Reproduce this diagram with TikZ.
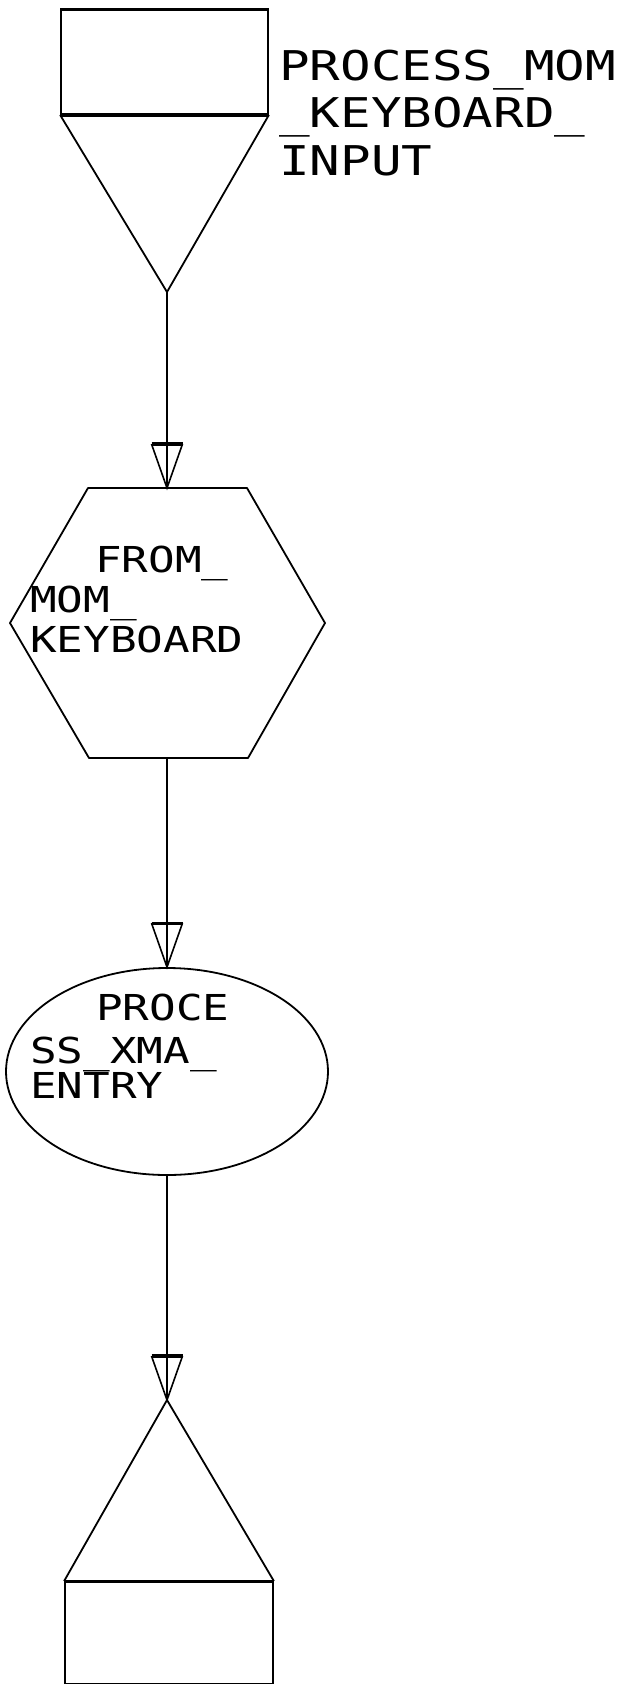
\documentclass[tikz,border=0pt]{standalone}
\usepackage{fontspec}
\newfontfamily\plotfont[FakeStretch=1.24]{DejaVu Sans Mono}
\usetikzlibrary{shapes.geometric}
\begin{document}
\begin{tikzpicture}[x=1pt,y=-1pt,
  outline/.style={draw=black, line width=1.8pt, line join=round},
  bar/.style={line width=3.2pt},
  flow/.style={line width=1.5pt},
  lbig/.style={font=\plotfont\fontsize{41}{47}\selectfont, inner sep=0pt, anchor=base west},
  lsmall/.style={font=\plotfont\fontsize{35.7}{40}\selectfont, inner sep=0pt, anchor=base west},
  openhead/.pic={
    \draw[line width=1.6pt, line join=miter] (-15.5,-44) -- (0,0) -- (15.5,-44);
    \draw[line width=3.2pt] (-15.5,-44) -- (15.5,-44);
  }]
\useasboundingbox (0,0) rectangle (631,1684);
\fill[white] (0,0) rectangle (631,1684);

% source block: box over an inverted triangle
\node[outline, minimum width=207pt, minimum height=104pt, inner sep=0pt] (srcbox) at (164.5,62) {};
\draw[bar] (srcbox.north west) -- (srcbox.north east);
\draw[bar] (srcbox.south west) -- (srcbox.south east);
\coordinate (srctip) at (167,292);
\draw[outline] (srcbox.south west) -- (srctip) -- (srcbox.south east);
\node[lbig] (lblA1) at (279,80) {PROCESS\_MOM};
\node[lbig] (lblA2) at (279,127) {\_KEYBOARD\_};
\node[lbig] (lblA3) at (279,175) {INPUT};

% hexagon
\coordinate (hextop) at (167,488);
\coordinate (hexbot) at (167,758);
\draw[outline] (88,488) -- (247,488) -- (325,623) -- (248,758) -- (89,758) -- (10,623) -- cycle;
\draw[line width=2.6pt] (88,488) -- (247,488);
\draw[line width=2.6pt] (89,758) -- (248,758);
\node[lsmall] (hexl1) at (95,572) {FROM\_};
\node[lsmall] (hexl2) at (30,612) {MOM\_};
\node[lsmall] (hexl3) at (30,652) {KEYBOARD};

% ellipse
\node[ellipse, outline, minimum width=322pt, minimum height=207pt, inner sep=0pt] (entry) at (167,1071.5) {};
\node[lsmall] (entl1) at (96,1020) {PROCE};
\node[lsmall] (entl2) at (30,1063) {SS\_XMA\_};
\node[lsmall] (entl3) at (30,1098) {ENTRY};

% sink block: triangle over a box
\coordinate (sinktip) at (167,1400);
\node[outline, minimum width=208pt, minimum height=102pt, inner sep=0pt] (sinkbox) at (169,1633) {};
\draw[outline] (sinkbox.north west) -- (sinktip) -- (sinkbox.north east);
\draw[bar] (sinkbox.north west) -- (sinkbox.north east);
\begin{scope}
  \clip (0,0) rectangle (631,1684);
  \node[lbig] (lblB) at (296,1722) {STE};
\end{scope}

% connectors
\draw[flow] (srctip) -- (hextop);
\pic at (hextop) {openhead};
\draw[flow] (hexbot) -- (entry.north);
\pic at (entry.north) {openhead};
\draw[flow] (entry.south) -- (sinktip);
\pic at (sinktip) {openhead};
\end{tikzpicture}
\end{document}
